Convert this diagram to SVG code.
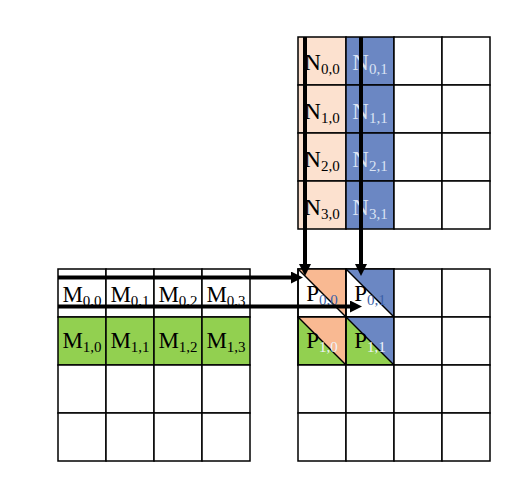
<svg xmlns="http://www.w3.org/2000/svg" width="506" height="483" viewBox="0 0 506 483">
<defs>
<style>
.g{stroke:#000;stroke-width:1.5;}
.e{fill:#fff;}
.pl{fill:#FCE1CF;}
.pd{fill:#F9B992;}
.bl{fill:#6B87C3;}
.gr{fill:#92D050;}
.d{stroke:#000;stroke-width:1.5;fill:none;}
text{font-family:"Liberation Serif","Times New Roman",serif;font-size:23px;text-anchor:middle;fill:#000;}
.s{font-size:15px;}
.lt{fill:#DAE3F3;}
.p0{fill:#3A5FA8;}
.p1{fill:#EEF3FA;}
.a{stroke:#000;stroke-width:4;fill:none;marker-end:url(#ah);}
</style>
<marker id="ah" markerUnits="userSpaceOnUse" markerWidth="12" markerHeight="12" refX="4" refY="6" orient="auto">
<path d="M0,0 L12,6 L0,12 z" fill="#000"/>
</marker>
</defs>
<rect width="506" height="483" fill="#fff"/>

<g id="matrix-N">
<g id="N00"><rect class="g pl" x="298" y="37" width="48" height="48"/><text x="322" y="70">N<tspan class="s" dy="4">0,0</tspan></text></g>
<g id="N01"><rect class="g bl" x="346" y="37" width="48" height="48"/><text class="lt" x="370" y="70">N<tspan class="s" dy="4">0,1</tspan></text></g>
<g id="N02"><rect class="g e" x="394" y="37" width="48" height="48"/></g>
<g id="N03"><rect class="g e" x="442" y="37" width="48" height="48"/></g>
<g id="N10"><rect class="g pl" x="298" y="85" width="48" height="48"/><text x="322" y="119">N<tspan class="s" dy="4">1,0</tspan></text></g>
<g id="N11"><rect class="g bl" x="346" y="85" width="48" height="48"/><text class="lt" x="370" y="119">N<tspan class="s" dy="4">1,1</tspan></text></g>
<g id="N12"><rect class="g e" x="394" y="85" width="48" height="48"/></g>
<g id="N13"><rect class="g e" x="442" y="85" width="48" height="48"/></g>
<g id="N20"><rect class="g pl" x="298" y="133" width="48" height="48"/><text x="322" y="167">N<tspan class="s" dy="4">2,0</tspan></text></g>
<g id="N21"><rect class="g bl" x="346" y="133" width="48" height="48"/><text class="lt" x="370" y="167">N<tspan class="s" dy="4">2,1</tspan></text></g>
<g id="N22"><rect class="g e" x="394" y="133" width="48" height="48"/></g>
<g id="N23"><rect class="g e" x="442" y="133" width="48" height="48"/></g>
<g id="N30"><rect class="g pl" x="298" y="181" width="48" height="48"/><text x="322" y="215">N<tspan class="s" dy="4">3,0</tspan></text></g>
<g id="N31"><rect class="g bl" x="346" y="181" width="48" height="48"/><text class="lt" x="370" y="215">N<tspan class="s" dy="4">3,1</tspan></text></g>
<g id="N32"><rect class="g e" x="394" y="181" width="48" height="48"/></g>
<g id="N33"><rect class="g e" x="442" y="181" width="48" height="48"/></g>
</g>

<g id="matrix-M">
<g id="M00"><rect class="g e" x="58" y="269" width="48" height="48"/><text x="82" y="302">M<tspan class="s" dy="4">0,0</tspan></text></g>
<g id="M01"><rect class="g e" x="106" y="269" width="48" height="48"/><text x="130" y="302">M<tspan class="s" dy="4">0,1</tspan></text></g>
<g id="M02"><rect class="g e" x="154" y="269" width="48" height="48"/><text x="178" y="302">M<tspan class="s" dy="4">0,2</tspan></text></g>
<g id="M03"><rect class="g e" x="202" y="269" width="48" height="48"/><text x="226" y="302">M<tspan class="s" dy="4">0,3</tspan></text></g>
<g id="M10"><rect class="g gr" x="58" y="317" width="48" height="48"/><text x="82" y="348">M<tspan class="s" dy="4">1,0</tspan></text></g>
<g id="M11"><rect class="g gr" x="106" y="317" width="48" height="48"/><text x="130" y="348">M<tspan class="s" dy="4">1,1</tspan></text></g>
<g id="M12"><rect class="g gr" x="154" y="317" width="48" height="48"/><text x="178" y="348">M<tspan class="s" dy="4">1,2</tspan></text></g>
<g id="M13"><rect class="g gr" x="202" y="317" width="48" height="48"/><text x="226" y="348">M<tspan class="s" dy="4">1,3</tspan></text></g>
<g id="M2"><rect class="g e" x="58" y="365" width="48" height="48"/><rect class="g e" x="106" y="365" width="48" height="48"/><rect class="g e" x="154" y="365" width="48" height="48"/><rect class="g e" x="202" y="365" width="48" height="48"/></g>
<g id="M3"><rect class="g e" x="58" y="413" width="48" height="48"/><rect class="g e" x="106" y="413" width="48" height="48"/><rect class="g e" x="154" y="413" width="48" height="48"/><rect class="g e" x="202" y="413" width="48" height="48"/></g>
</g>

<g id="matrix-P">
<g id="P00"><rect class="g e" x="298" y="269" width="48" height="48"/><path class="pd" d="M298,269 L346,269 L346,317 z"/><path class="d" d="M298,269 L346,317"/><rect class="d" x="298" y="269" width="48" height="48"/><text x="322" y="301">P<tspan class="s p0" dy="4">0,0</tspan></text></g>
<g id="P01"><rect class="g e" x="346" y="269" width="48" height="48"/><path class="bl" d="M346,269 L394,269 L394,317 z"/><path class="d" d="M346,269 L394,317"/><rect class="d" x="346" y="269" width="48" height="48"/><text x="370" y="301">P<tspan class="s p0" dy="4">0,1</tspan></text></g>
<g id="P02"><rect class="g e" x="394" y="269" width="48" height="48"/></g>
<g id="P03"><rect class="g e" x="442" y="269" width="48" height="48"/></g>
<g id="P10"><rect class="g gr" x="298" y="317" width="48" height="48"/><path class="pd" d="M298,317 L346,317 L346,365 z"/><path class="d" d="M298,317 L346,365"/><rect class="d" x="298" y="317" width="48" height="48"/><text x="322" y="348">P<tspan class="s p1" dy="4">1,0</tspan></text></g>
<g id="P11"><rect class="g gr" x="346" y="317" width="48" height="48"/><path class="bl" d="M346,317 L394,317 L394,365 z"/><path class="d" d="M346,317 L394,365"/><rect class="d" x="346" y="317" width="48" height="48"/><text x="370" y="348">P<tspan class="s p1" dy="4">1,1</tspan></text></g>
<g id="P12"><rect class="g e" x="394" y="317" width="48" height="48"/></g>
<g id="P13"><rect class="g e" x="442" y="317" width="48" height="48"/></g>
<g id="P2"><rect class="g e" x="298" y="365" width="48" height="48"/><rect class="g e" x="346" y="365" width="48" height="48"/><rect class="g e" x="394" y="365" width="48" height="48"/><rect class="g e" x="442" y="365" width="48" height="48"/></g>
<g id="P3"><rect class="g e" x="298" y="413" width="48" height="48"/><rect class="g e" x="346" y="413" width="48" height="48"/><rect class="g e" x="394" y="413" width="48" height="48"/><rect class="g e" x="442" y="413" width="48" height="48"/></g>
</g>

<g id="connectors">
<line class="a" x1="305" y1="37" x2="305" y2="268"/>
<line class="a" x1="361" y1="37" x2="361" y2="268"/>
<line class="a" x1="58" y1="277.5" x2="295" y2="277.5"/>
<line class="a" x1="58" y1="306.5" x2="354" y2="306.5"/>
</g>
</svg>
